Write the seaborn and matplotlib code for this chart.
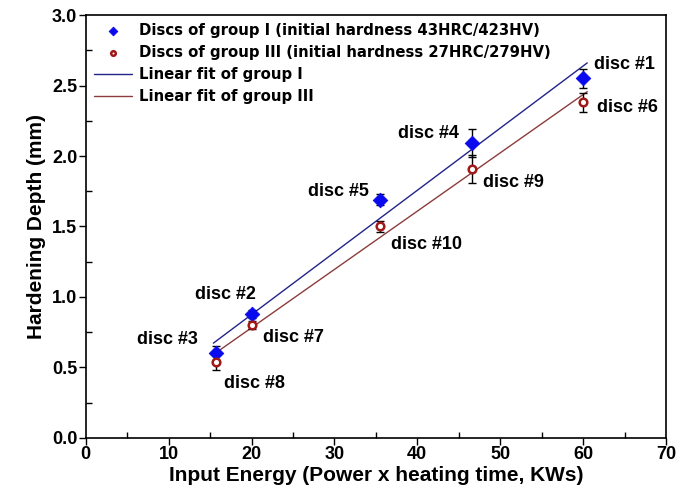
import numpy as np
import pandas as pd
import matplotlib
matplotlib.use("Agg")
import matplotlib.pyplot as plt
from matplotlib.ticker import MultipleLocator, FormatStrFormatter
import seaborn as sns

# Input energy (kWs) and hardening depth (mm) for both disc groups
energy_g1 = [15.7, 20.1, 35.5, 46.6, 60.0]
depth_g1 = [0.60, 0.88, 1.69, 2.09, 2.55]
err_g1 = [0.05, 0.03, 0.04, 0.10, 0.07]
names_g1 = ["disc #3", "disc #2", "disc #5", "disc #4", "disc #1"]

energy_g3 = [15.7, 20.1, 35.5, 46.6, 60.0]
depth_g3 = [0.54, 0.80, 1.50, 1.91, 2.38]
err_g3 = [0.06, 0.03, 0.04, 0.10, 0.07]
names_g3 = ["disc #8", "disc #7", "disc #10", "disc #9", "disc #6"]

label_g1 = "Discs of group I (initial hardness 43HRC/423HV)"
label_g3 = "Discs of group III (initial hardness 27HRC/279HV)"
fit_label_g1 = "Linear fit of group I"
fit_label_g3 = "Linear fit of group III"

sns.set_style("ticks")
plt.rcParams["font.family"] = ["Liberation Sans", "DejaVu Sans"]
plt.rcParams["font.weight"] = "bold"
for key in ["text.color", "axes.labelcolor", "xtick.color", "ytick.color"]:
    plt.rcParams[key] = "black"

fig = plt.figure(figsize=(6.84, 4.94), dpi=100)
ax = fig.add_axes([0.1253, 0.1134, 0.8484, 0.8562])

blue_pt = "#0a0aee"
blue_ln = "#23238c"
red_pt = "#a01818"
red_ln = "#8c3c3c"

df1 = pd.DataFrame({"energy": energy_g1, "depth": depth_g1})
df3 = pd.DataFrame({"energy": energy_g3, "depth": depth_g3})

# least-squares fits drawn over the measured energy range
def fit_frame(x, y):
    k, b = np.polyfit(x, y, 1)
    xs = np.array([min(x) - 0.3, max(x) + 0.5])
    return pd.DataFrame({"energy": xs, "depth": k * xs + b})

sns.lineplot(data=fit_frame(energy_g1, depth_g1), x="energy", y="depth", ax=ax,
             color=blue_ln, lw=1.0, label=fit_label_g1, zorder=2)
sns.lineplot(data=fit_frame(energy_g3, depth_g3), x="energy", y="depth", ax=ax,
             color=red_ln, lw=1.0, label=fit_label_g3, zorder=2)

ax.errorbar(energy_g1, depth_g1, yerr=err_g1, fmt="none", ecolor="black",
            elinewidth=1.0, capsize=3, capthick=1.0, zorder=3)
ax.errorbar(energy_g3, depth_g3, yerr=err_g3, fmt="none", ecolor="black",
            elinewidth=1.0, capsize=3, capthick=1.0, zorder=3)

sns.scatterplot(data=df1, x="energy", y="depth", ax=ax, marker="D", s=55,
                color=blue_pt, edgecolor=blue_pt, label=label_g1, zorder=4)
sns.scatterplot(data=df3, x="energy", y="depth", ax=ax, marker="o", s=30,
                facecolor="white", edgecolor=red_pt, linewidth=1.8,
                label=label_g3, zorder=4)

# point annotations (offsets in points from each marker)
offsets_g1 = [(-57, 7), (-41, 11), (-52, 3), (-53, 4), (8, 7)]
offsets_g3 = [(6, -19), (8, -12), (8, -16), (8, -13), (10, -7)]
for x, y, t, (dx, dy) in zip(energy_g1, depth_g1, names_g1, offsets_g1):
    ax.annotate(t, (x, y), xytext=(dx, dy), textcoords="offset points",
                fontsize=13, fontweight="bold", color="black")
for x, y, t, (dx, dy) in zip(energy_g3, depth_g3, names_g3, offsets_g3):
    ax.annotate(t, (x, y), xytext=(dx, dy), textcoords="offset points",
                fontsize=13, fontweight="bold", color="black")

ax.set_xlim(0, 70)
ax.set_ylim(0, 3.0)
ax.xaxis.set_major_locator(MultipleLocator(10))
ax.xaxis.set_minor_locator(MultipleLocator(5))
ax.yaxis.set_major_locator(MultipleLocator(0.5))
ax.yaxis.set_minor_locator(MultipleLocator(0.25))
ax.yaxis.set_major_formatter(FormatStrFormatter("%.1f"))
ax.tick_params(which="major", direction="out", length=5, width=1.0,
               labelsize=13, pad=1)
ax.tick_params(which="minor", direction="in", length=4, width=1.0)
for lbl in ax.get_xticklabels() + ax.get_yticklabels():
    lbl.set_fontweight("bold")

for side in ["top", "right", "left", "bottom"]:
    ax.spines[side].set_visible(True)
    ax.spines[side].set_linewidth(1.2)
    ax.spines[side].set_color("black")

ax.set_xlabel("Input Energy (Power x heating time, KWs)", fontsize=15,
              fontweight="bold", labelpad=2)
ax.set_ylabel("Hardening Depth (mm)", fontsize=15, fontweight="bold", labelpad=4)

handles, labels = ax.get_legend_handles_labels()
order = [labels.index(l) for l in [label_g1, label_g3, fit_label_g1, fit_label_g3]]
leg = ax.legend([handles[i] for i in order], [labels[i] for i in order],
                loc="upper left", frameon=False,
                prop={"family": "DejaVu Sans", "weight": "bold", "size": 10.7},
                markerscale=0.6, handlelength=2.6, handletextpad=0.47,
                labelspacing=0.48, borderpad=0, borderaxespad=0,
                bbox_to_anchor=(0.014, 0.981))

fig.savefig("out.png", dpi=100)
